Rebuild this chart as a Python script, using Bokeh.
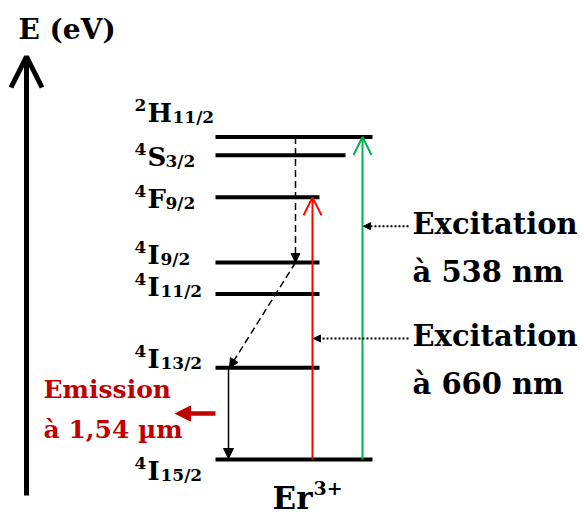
from bokeh.plotting import figure
from bokeh.models import Range1d, Arrow, OpenHead, NormalHead, ColumnDataSource
from bokeh.core.properties import value
from bokeh.embed import file_html
from bokeh.resources import INLINE

# ---------------- data ----------------
axis_title = "E (eV)"
ion_name = "Er"
ion_charge = "3+"
level_sup = ["2", "4", "4", "4", "4", "4", "4"]
level_term = ["H", "S", "F", "I", "I", "I", "I"]
level_sub = ["11/2", "3/2", "9/2", "9/2", "11/2", "13/2", "15/2"]
level_energy_ev = [2.30, 2.17, 1.87, 1.405, 1.18, 0.655, 0.0]

excitation_line1 = ["Excitation", "Excitation"]
excitation_line2 = ["à 538 nm", "à 660 nm"]
excitation_top_ev = [2.30, 1.87]          # 2H11/2 (538 nm) and 4F9/2 (660 nm)
relax_path_ev = [2.30, 1.405, 0.655]      # 2H11/2 -> 4I9/2 -> 4I13/2
emission_line1 = "Emission"
emission_line2 = "à 1,54 µm"
emission_ev = [0.655, 0.0]                # 4I13/2 -> 4I15/2

# ---------------- layout ----------------
K = 140.2          # px per eV
E0_PAGE = 459      # page y of E = 0
TXT = 11           # upward correction of text baselines (px)
def ev(py):
    return (E0_PAGE - py) / K
def tev(py):
    return ev(py - TXT)

FONT = value("DejaVu Serif")
BLACK = "#000000"
RED = "#ff0000"
GREEN = "#00b050"
DARKRED = "#c00000"

p = figure(width=584, height=515, x_range=Range1d(0, 584), y_range=Range1d(ev(515), ev(0)),
           output_backend="svg", toolbar_location=None, min_border=0,
           x_axis_type=None, y_axis_type=None)
p.grid.visible = False
p.outline_line_color = None
p.background_fill_color = "white"

# energy levels
level_x0 = 215
level_x1 = [372, 345, 319, 319, 319, 319, 372]
p.segment(x0=[level_x0] * len(level_energy_ev), y0=level_energy_ev, x1=level_x1, y1=level_energy_ev,
          line_width=4, line_color=BLACK)

# level labels
label_dy = [-13, 13, 13, 3, 4, 2, 22]            # baseline offset from the level (px, down)
sub_dx = {"H": 25, "S": 18, "F": 18, "I": 13}     # subscript start from the letter start (px)
base_y = [e - (d - TXT) / K for e, d in zip(level_energy_ev, label_dy)]
src_term = ColumnDataSource(dict(x=[147] * 7, y=base_y, t=level_term))
src_sup = ColumnDataSource(dict(x=[134] * 7, y=[b + 8 / K for b in base_y], t=level_sup))
src_sub = ColumnDataSource(dict(x=[147 + sub_dx[t] for t in level_term], y=[b - 4 / K for b in base_y], t=level_sub))
p.text(x="x", y="y", text="t", source=src_term, text_font=FONT, text_font_style="bold",
       text_font_size="26px", text_color=BLACK, text_baseline="alphabetic")
p.text(x="x", y="y", text="t", source=src_sup, text_font=FONT, text_font_style="bold",
       text_font_size="17px", text_color=BLACK, text_baseline="alphabetic")
p.text(x="x", y="y", text="t", source=src_sub, text_font=FONT, text_font_style="bold",
       text_font_size="17px", text_color=BLACK, text_baseline="alphabetic")

# energy axis arrow
p.add_layout(Arrow(x_start=26, y_start=ev(495), x_end=26, y_end=ev(56), line_width=5, line_color=BLACK,
                   end=OpenHead(size=31, line_width=5, line_color=BLACK)))
p.text(x=[18], y=[tev(40)], text=[axis_title], text_font=FONT, text_font_style="bold",
       text_font_size="28px", text_color=BLACK, text_baseline="alphabetic")

# excitation arrows
exc_x = [362, 312]
exc_col = [GREEN, RED]
for x, top, c in zip(exc_x, excitation_top_ev, exc_col):
    p.add_layout(Arrow(x_start=x, y_start=0.0, x_end=x, y_end=top, line_width=2, line_color=c,
                       end=OpenHead(size=18, line_width=2, line_color=c)))

# non-radiative relaxation (dashed)
relax_x = [295, 295, 229]
for i in range(2):
    p.add_layout(Arrow(x_start=relax_x[i], y_start=relax_path_ev[i], x_end=relax_x[i + 1], y_end=relax_path_ev[i + 1],
                       line_width=1.5, line_color=BLACK, line_dash="7 4",
                       end=NormalHead(size=9, line_color=BLACK, fill_color=BLACK, line_width=1)))

# radiative emission 4I13/2 -> 4I15/2
p.add_layout(Arrow(x_start=228, y_start=emission_ev[0], x_end=228, y_end=emission_ev[1] + 1 / K,
                   line_width=1.5, line_color=BLACK,
                   end=NormalHead(size=10, line_color=BLACK, fill_color=BLACK, line_width=1)))

# dotted pointers from the excitation labels
ptr_y = [ev(225.7), ev(338)]
for x, y in zip(exc_x, ptr_y):
    p.add_layout(Arrow(x_start=408, y_start=y, x_end=x + 1, y_end=y, line_width=2, line_color=BLACK,
                       line_dash="2 2",
                       end=NormalHead(size=7, line_color=BLACK, fill_color=BLACK, line_width=1)))

# excitation texts
txt_y1 = [tev(234), tev(346)]
txt_y2 = [tev(282), tev(394)]
p.text(x=[412, 412], y=txt_y1, text=excitation_line1, text_font=FONT, text_font_style="bold",
       text_font_size="29px", text_color=BLACK, text_baseline="alphabetic")
p.text(x=[412, 412], y=txt_y2, text=excitation_line2, text_font=FONT, text_font_style="bold",
       text_font_size="29px", text_color=BLACK, text_baseline="alphabetic")

# emission label + arrow
emi_mid = (emission_ev[0] + emission_ev[1]) / 2
p.add_layout(Arrow(x_start=215, y_start=emi_mid, x_end=175, y_end=emi_mid, line_width=4.5, line_color=DARKRED,
                   end=NormalHead(size=15, line_color=DARKRED, fill_color=DARKRED, line_width=1)))
p.text(x=[43, 43], y=[tev(400), tev(440)], text=[emission_line1, emission_line2], text_font=FONT,
       text_font_style="bold", text_font_size="25px", text_color=DARKRED, text_baseline="alphabetic")

# ion label
p.text(x=[272], y=[tev(508)], text=[ion_name], text_font=FONT, text_font_style="bold",
       text_font_size="31px", text_color=BLACK, text_baseline="alphabetic")
p.text(x=[313], y=[tev(498)], text=[ion_charge], text_font=FONT, text_font_style="bold",
       text_font_size="19px", text_color=BLACK, text_baseline="alphabetic")

open("out.html", "w").write(file_html(p, INLINE))
